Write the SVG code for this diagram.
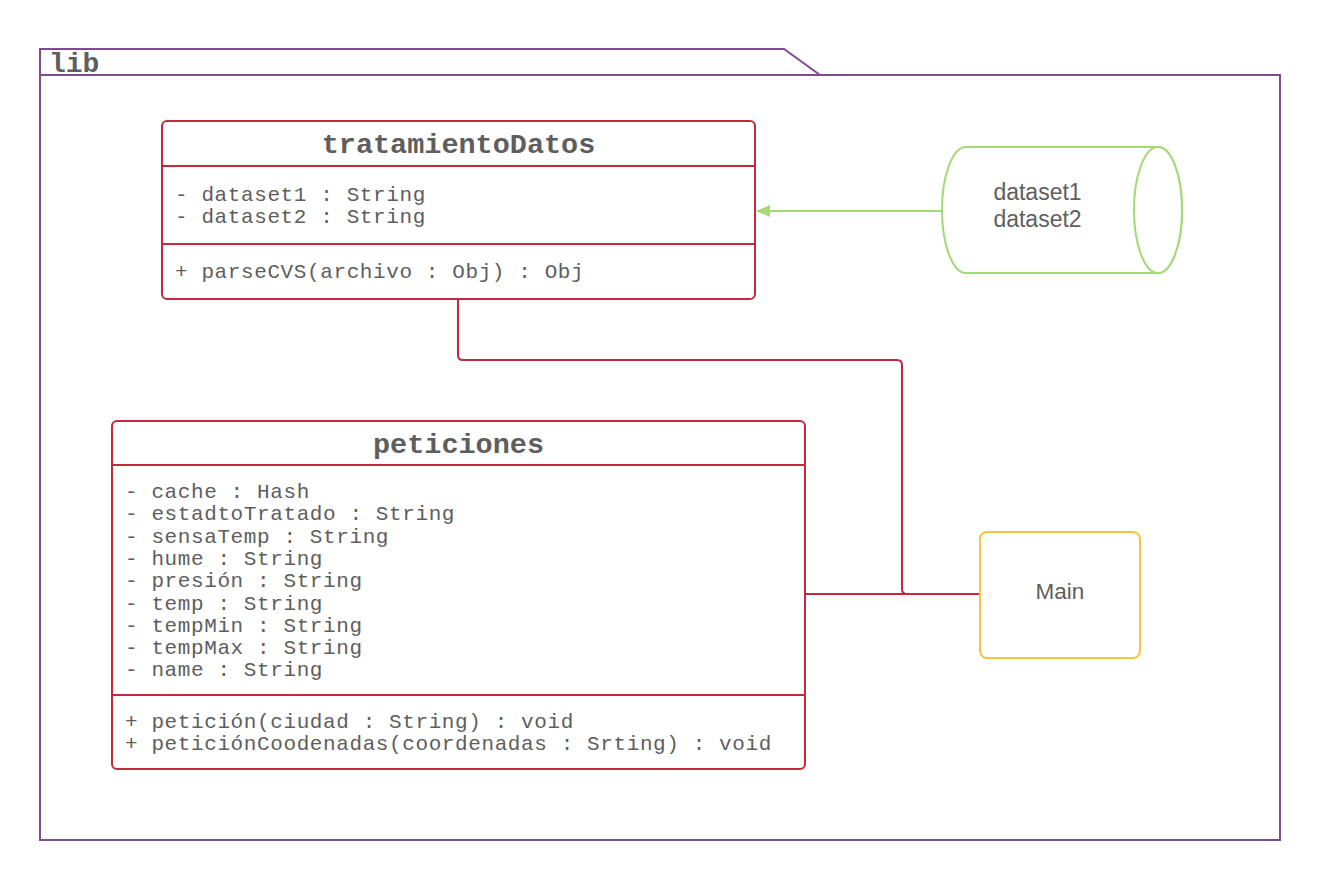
<svg xmlns="http://www.w3.org/2000/svg" width="1319" height="881" viewBox="0 0 1319 881">
<style>
.pkg{fill:none;stroke:#7f4a8f;stroke-width:2}
.cls{fill:#ffffff;stroke:#c3283d;stroke-width:2}
.div{stroke:#c3283d;stroke-width:2}
.mono{font-family:"Liberation Mono","Courier New",monospace;font-size:21px;letter-spacing:0.6px;fill:#5e5e5e}
.title{font-family:"Liberation Mono","Courier New",monospace;font-size:28.5px;font-weight:bold;fill:#5e5e5e}
.sans{font-family:"Liberation Sans",Arial,sans-serif;font-size:23px;fill:#5e5e5e}
.conn{fill:none;stroke:#c3283d;stroke-width:2}
.db{fill:#ffffff;stroke:#a3d977;stroke-width:2}
</style>
<defs>
<marker id="arr" viewBox="0 0 14 12" refX="13" refY="6" markerWidth="14" markerHeight="12" markerUnits="userSpaceOnUse" orient="auto">
<path d="M0,0 L14,6 L0,12 Z" fill="#a3d977"/>
</marker>
</defs>
<rect width="1319" height="881" fill="#ffffff"/>
<g id="lib">
<path class="pkg" d="M40,75 L40,49 L784,49 L820,75"/>
<rect class="pkg" x="40" y="75" width="1240" height="765"/>
<line class="pkg" x1="40" y1="75" x2="820" y2="75"/>
<text x="49" y="72" font-family="'Liberation Mono','Courier New',monospace" font-size="28" font-weight="bold" fill="#5e5e5e">lib</text>
</g>
<g id="connectors">
<path class="conn" d="M458,299 L458,355 Q458,360 463,360 L897,360 Q902,360 902,365 L902,589 Q902,594 907,594 L980,594"/>
<line class="conn" x1="805" y1="594" x2="980" y2="594"/>
<line x1="942" y1="211" x2="757" y2="211" stroke="#a3d977" stroke-width="2" marker-end="url(#arr)"/>
</g>
<g id="tratamientoDatos">
<rect class="cls" x="162" y="121" width="593" height="178" rx="5"/>
<line class="div" x1="162" y1="166" x2="755" y2="166"/>
<line class="div" x1="162" y1="244" x2="755" y2="244"/>
<text class="title" x="458.5" y="153" text-anchor="middle">tratamientoDatos</text>
<text class="mono" x="175" y="201">- dataset1 : String</text>
<text class="mono" x="175" y="223">- dataset2 : String</text>
<text class="mono" x="175" y="278">+ parseCVS(archivo : Obj) : Obj</text>
</g>
<g id="peticiones">
<rect class="cls" x="112" y="421" width="693" height="348" rx="5"/>
<line class="div" x1="112" y1="465" x2="805" y2="465"/>
<line class="div" x1="112" y1="695" x2="805" y2="695"/>
<text class="title" x="458.5" y="453" text-anchor="middle">peticiones</text>
<text class="mono" x="125" y="498">- cache : Hash</text>
<text class="mono" x="125" y="520.3">- estadtoTratado : String</text>
<text class="mono" x="125" y="542.6">- sensaTemp : String</text>
<text class="mono" x="125" y="564.9">- hume : String</text>
<text class="mono" x="125" y="587.2">- presión : String</text>
<text class="mono" x="125" y="609.5">- temp : String</text>
<text class="mono" x="125" y="631.8">- tempMin : String</text>
<text class="mono" x="125" y="654.1">- tempMax : String</text>
<text class="mono" x="125" y="676.4">- name : String</text>
<text class="mono" x="125" y="728">+ petición(ciudad : String) : void</text>
<text class="mono" x="125" y="750.3">+ peticiónCoodenadas(coordenadas : Srting) : void</text>
</g>
<g id="datasets">
<path class="db" d="M966,147 L1158,147 A24,63 0 0 1 1158,273 L966,273 A24,63 0 0 1 966,147 Z"/>
<ellipse class="db" cx="1158" cy="210" rx="24" ry="63"/>
<text class="sans" x="1037.5" y="200" text-anchor="middle">dataset1</text>
<text class="sans" x="1037.5" y="227" text-anchor="middle">dataset2</text>
</g>
<g id="Main">
<rect x="980" y="532" width="160" height="126" rx="7" fill="#ffffff" stroke="#f5c443" stroke-width="2"/>
<text class="sans" x="1060" y="599" text-anchor="middle" style="font-size:22.5px">Main</text>
</g>
</svg>
